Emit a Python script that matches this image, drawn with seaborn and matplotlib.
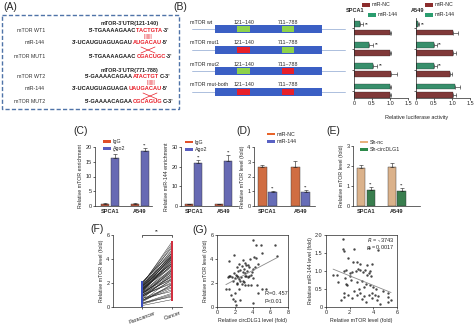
import numpy as np
import pandas as pd
import matplotlib
matplotlib.use("Agg")
import matplotlib.pyplot as plt
import seaborn as sns
from matplotlib.patches import Rectangle, Patch

sns.set_theme(style="ticks")
plt.rcParams['font.family'] = ['Liberation Sans', 'DejaVu Sans']
plt.rcParams['axes.linewidth'] = 0.5
plt.rcParams['xtick.major.width'] = 0.5
plt.rcParams['ytick.major.width'] = 0.5
plt.rcParams['xtick.major.size'] = 1.5
plt.rcParams['ytick.major.size'] = 1.5
plt.rcParams['xtick.major.pad'] = 1
plt.rcParams['ytick.major.pad'] = 1
plt.rcParams['xtick.labelsize'] = 4
plt.rcParams['ytick.labelsize'] = 4
plt.rcParams['axes.labelsize'] = 3.8
plt.rcParams['axes.labelpad'] = 1.5

# ---------------- data ----------------
# Panel A
a_row_labels = ["mTOR WT1", "miR-144", "mTOR MUT1", "mTOR WT2", "miR-144", "mTOR MUT2"]
a_headers = ["mTOR-3'UTR(121-140)", "mTOR-3'UTR(771-788)"]
a_wt1 = [("5'-TGAAAAGAAC", "k"), ("TACTGTA", "r"), ("-3'", "k")]
a_mir1 = [("3'-UCAUGUAGUAGAU", "k"), ("AUGACAU", "r"), ("-5'", "k")]
a_mut1 = [("5'-TGAAAAGAAC", "k"), ("CGACUGC", "r"), ("-3'", "k")]
a_wt2 = [("5'-GAAAACAGAA", "k"), ("ATACTGT", "r"), ("C-3'", "k")]
a_mir2 = [("3'-UCAUGUAGUAGA", "k"), ("UAUGACAU", "r"), ("-5'", "k")]
a_mut2 = [("5'-GAAAACAGAA", "k"), ("CGCAGUG", "r"), ("C-3'", "k")]

# Panel B
constructs = ["mTOR wt", "mTOR mut1", "mTOR mut2", "mTOR mut-both"]
site_labels = ["121~140", "711~788"]
site_status = [["wt", "wt"], ["mut", "wt"], ["wt", "mut"], ["mut", "mut"]]
spca1_mir144 = [0.16, 0.43, 0.53, 0.99]
spca1_mir144_err = [0.08, 0.09, 0.1, 0.05]
spca1_nc = [0.99, 0.99, 1.03, 1.0]
spca1_nc_err = [0.03, 0.03, 0.17, 0.02]
a549_mir144 = [0.06, 0.5, 0.5, 1.08]
a549_mir144_err = [0.03, 0.07, 0.07, 0.15]
a549_nc = [1.04, 1.04, 0.95, 1.04]
a549_nc_err = [0.14, 0.07, 0.05, 0.07]

# Panel C/D/E
cells = ["SPCA1", "A549"]
c_igg_mtor = [0.8, 0.8]
c_igg_mtor_err = [0.2, 0.2]
c_ago2_mtor = [16.4, 18.8]
c_ago2_mtor_err = [1.2, 0.7]
c_igg_mir = [0.8, 0.8]
c_igg_mir_err = [0.3, 0.3]
c_ago2_mir = [22.0, 22.9]
c_ago2_mir_err = [1.4, 3.0]
d_nc = [2.64, 2.64]
d_nc_err = [0.17, 0.4]
d_mir144 = [0.95, 0.95]
d_mir144_err = [0.07, 0.12]
e_shnc = [1.88, 1.95]
e_shnc_err = [0.18, 0.22]
e_shcirc = [0.78, 0.76]
e_shcirc_err = [0.16, 0.13]

# Panel F (paired samples)
f_para = [0.12, 0.31, 0.48, 0.22, 0.65, 0.83, 0.41, 1.05, 0.77, 0.94, 1.18, 0.56, 1.32, 1.27,
          0.88, 1.46, 1.09, 1.51, 0.69, 1.38, 1.62, 1.14, 1.73, 0.99, 1.41, 1.85, 1.22, 1.57,
          1.93, 0.36, 1.67, 1.03, 1.79, 2.04, 1.25, 0.72, 1.48, 1.88, 1.36, 0.58, 1.12, 1.69,
          0.91, 1.54, 1.98, 0.27, 1.31, 1.76, 0.84, 1.44, 2.08, 1.17, 1.6, 0.47, 1.83]
f_cancer = [0.62, 1.15, 2.35, 0.95, 2.8, 3.1, 1.85, 3.55, 2.6, 3.25, 4.05, 1.45, 4.3, 3.85,
            2.2, 4.55, 2.95, 4.2, 1.7, 3.7, 4.8, 2.75, 5.1, 2.4, 3.95, 5.45, 3.05, 4.1,
            5.25, 0.85, 4.4, 1.95, 3.6, 4.65, 2.5, 1.3, 3.35, 4.25, 3.8, 1.6, 2.9, 4.0,
            2.05, 3.45, 4.95, 1.05, 3.15, 4.15, 2.65, 3.5, 4.5, 2.3, 3.65, 1.9, 4.35]
f_groups = ["Paracancer", "Cancer"]

# Panel G
g1_circ = [4.0, 4.4, 5.0, 6.5, 6.8, 5.1, 4.4, 4.2, 3.7, 1.3, 1.9, 2.97, 2.5, 3.2, 3.5, 2.2, 2.8,
           3.0, 3.3, 3.6, 4.0, 2.4, 2.6, 2.9, 3.1, 3.4, 3.8, 4.3, 1.2, 1.5, 1.7, 1.9, 2.0, 2.3,
           2.1, 2.7, 3.2, 3.5, 3.9, 2.5, 1.8, 2.2, 2.6, 3.0, 3.6, 4.1, 1.3, 1.0, 1.6, 1.8, 2.0,
           2.1, 2.0, 2.5, 2.6, 3.5, 3.8, 4.0, 4.5, 5.1, 4.6, 2.8, 3.1, 2.4, 3.3, 4.6, 5.5, 2.3,
           1.4, 2.9]
g1_mtor = [5.6, 5.2, 5.2, 5.2, 4.25, 4.5, 4.1, 4.2, 4.0, 3.85, 4.3, 3.9, 3.6, 3.7, 3.5, 3.3, 3.4,
           3.2, 3.5, 3.3, 3.2, 3.0, 3.1, 2.9, 2.8, 3.0, 2.7, 3.3, 2.5, 2.6, 2.5, 2.8, 2.4, 2.6,
           2.7, 2.5, 2.6, 2.5, 2.9, 2.3, 2.2, 2.0, 2.2, 2.1, 2.6, 2.4, 1.5, 1.5, 1.0, 0.7, 0.5,
           0.2, 1.2, 1.5, 0.6, 1.8, 1.8, 0.3, 1.8, 1.5, 1.2, 1.9, 1.8, 2.5, 2.6, 3.6, 1.5, 1.9,
           2.6, 2.2]
g2_mtor = [1.4, 1.45, 1.5, 2.4, 3.6, 4.4, 1.9, 2.3, 2.6, 2.9, 3.5, 3.9, 0.6, 0.9, 1.0, 1.5,
           1.7, 2.0, 2.2, 2.5, 2.7, 2.9, 3.1, 3.3, 3.5, 3.7, 3.8, 1.6, 2.1, 2.6, 3.0, 3.4, 3.7,
           4.0, 1.8, 2.4, 2.8, 3.2, 3.9, 4.2, 1.5, 1.5, 1.9, 2.6, 2.9, 3.2, 3.6, 3.9, 4.1, 4.3,
           5.2, 5.2, 5.5, 5.2, 4.6, 1.3, 2.2, 3.0, 3.4, 4.4, 4.8, 2.0, 1.7, 3.6]
g2_mir = [1.9, 1.62, 1.55, 1.6, 1.64, 1.57, 1.36, 1.25, 1.25, 1.2, 1.17, 1.2, 0.9, 0.9, 0.7, 1.0,
          1.02, 0.95, 0.98, 1.0, 1.05, 1.03, 0.97, 1.02, 0.9, 1.0, 0.85, 0.8, 0.75, 0.7, 0.72,
          0.65, 0.6, 0.55, 0.6, 0.45, 0.5, 0.55, 0.4, 0.5, 0.28, 0.38, 0.33, 0.33, 0.38, 0.3,
          0.33, 0.25, 0.33, 0.2, 0.38, 0.28, 0.19, 0.14, 0.07, 0.2, 0.25, 0.22, 0.15, 0.3, 0.45,
          0.85, 0.65, 0.95]

# ---------------- figure ----------------
W, H = 474, 325
fig = plt.figure(figsize=(W / 100, H / 100), dpi=100)


def px_axes(x0, y0, x1, y1):
    return fig.add_axes([x0 / W, 1 - y1 / H, (x1 - x0) / W, (y1 - y0) / H])


def ftext(x, y, s, **kw):
    fig.text(x / W, 1 - y / H, s, **kw)


RED = "#e8202a"


def rainbow(ax, x, y, parts, **kw):
    s, c = parts[0]
    t = ax.text(x, y, s, color=("k" if c == "k" else RED), va="center", ha="left", **kw)
    for s, c in parts[1:]:
        t = ax.annotate(s, xycoords=t, xy=(1, 0), va="bottom", ha="left",
                        color=("k" if c == "k" else RED), **kw)
    return t


# ----- Panel A -----
axA = px_axes(0, 0, 182, 112)
axA.set_xlim(0, 182)
axA.set_ylim(112, 0)
axA.axis("off")
axA.add_patch(Rectangle((2, 15), 177, 94, fill=False, ls=(0, (3, 1.6)), lw=1.0,
                        edgecolor="#4f73a8"))
row_y = [30, 43, 57, 77, 89, 102]
for lab, y in zip(a_row_labels, row_y):
    axA.text(45, y, lab, ha="right", va="center", fontsize=3.8, color="#333333")
axA.text(130, 23, a_headers[0], ha="center", va="center", fontsize=4, fontweight="bold")
axA.text(130, 71, a_headers[1], ha="center", va="center", fontsize=4, fontweight="bold")
seqkw = dict(fontsize=4.1, fontweight="bold")
rainbow(axA, 89, 30, a_wt1, **seqkw)
rainbow(axA, 72, 43, a_mir1, **seqkw)
rainbow(axA, 89, 57, a_mut1, **seqkw)
rainbow(axA, 85, 77, a_wt2, **seqkw)
rainbow(axA, 72, 89, a_mir2, **seqkw)
rainbow(axA, 85, 102, a_mut2, **seqkw)
axA.text(148, 36.5, "|||||||", ha="center", va="center", fontsize=3.5, color=RED)
axA.text(151, 83, "|||||||", ha="center", va="center", fontsize=3.5, color=RED)
for cx, cy in [(148, 50), (150, 96)]:
    axA.plot([cx - 7, cx + 7], [cy - 3, cy + 3], color=RED, lw=0.5)
    axA.plot([cx - 7, cx + 7], [cy + 3, cy - 3], color=RED, lw=0.5)

# ----- Panel B diagram -----
axBd = px_axes(180, 15, 352, 100)
axBd.set_xlim(180, 352)
axBd.set_ylim(100, 15)
axBd.axis("off")
BLUE = "#3b5fc4"
GREEN_BOX = "#8ed24a"
site_x = [(237, 250), (282, 294)]
for i, (name, status) in enumerate(zip(constructs, site_status)):
    yc = 29 + 21 * i
    axBd.plot([192, 345], [yc, yc], color="#9fb4d8", lw=0.6, zorder=1)
    axBd.add_patch(Rectangle((215, yc - 4), 107, 8, facecolor=BLUE, edgecolor="none", zorder=2))
    for (x0, x1), st, lab in zip(site_x, status, site_labels):
        axBd.add_patch(Rectangle((x0, yc - 3), x1 - x0, 6,
                                 facecolor=(GREEN_BOX if st == "wt" else RED),
                                 edgecolor="none", zorder=3))
        axBd.text((x0 + x1) / 2, yc - 7, lab, ha="center", va="center", fontsize=3.8)
    axBd.text(190, yc - 7, name, ha="left", va="center", fontsize=3.8)

# ----- Panel B bars -----
NC_RED = "#8c2d2d"
MIR_GREEN = "#2a9d6f"


def hbars(ax, v144, e144, vnc, enc):
    df = pd.DataFrame({"construct": constructs * 2,
                       "group": ["miR-144"] * 4 + ["miR-NC"] * 4,
                       "value": v144 + vnc})
    sns.barplot(data=df, y="construct", x="value", hue="group",
                hue_order=["miR-144", "miR-NC"], palette=[MIR_GREEN, NC_RED],
                orient="h", width=0.8, gap=0.3, errorbar=None, ax=ax, legend=False,
                edgecolor="#222222", linewidth=0.2)
    for cont, errs in zip(ax.containers, [e144, enc]):
        for bar, e in zip(cont, errs):
            ax.errorbar(bar.get_x() + bar.get_width(), bar.get_y() + bar.get_height() / 2,
                        xerr=[[0], [e]], fmt="none", ecolor="k", elinewidth=0.4,
                        capsize=1.2, capthick=0.4)
    ax.set_ylim(3.35, -0.5)
    ax.set_xlim(0, 1.5)
    ax.set_xticks([0, 0.5, 1.0, 1.5])
    ax.set_xticklabels(["0", "0.5", "1.0", "1.5"])
    ax.set_yticks([0, 1, 2, 3])
    ax.set_yticklabels([])
    ax.set_xlabel("")
    ax.set_ylabel("")
    sns.despine(ax=ax)
    return ax


axB1 = hbars(px_axes(354, 18, 408, 98), spca1_mir144, spca1_mir144_err, spca1_nc, spca1_nc_err)
axB2 = hbars(px_axes(416, 18, 470, 98), a549_mir144, a549_mir144_err, a549_nc, a549_nc_err)
for ax, v, e, stars in [(axB1, spca1_mir144, spca1_mir144_err, [0, 1, 2]),
                        (axB2, a549_mir144, a549_mir144_err, [0, 1, 2])]:
    cont = ax.containers[0]
    for i in stars:
        bar = cont[i]
        ax.text(v[i] + e[i] + 0.05, bar.get_y() + bar.get_height() / 2, "**",
                fontsize=3.5, ha="left", va="center")
ftext(417, 117, "Relative luciferase activity", ha="center", va="center", fontsize=4)
ftext(346, 11, "SPCA1", ha="left", va="center", fontsize=4, fontweight="bold")
ftext(411, 11, "A549", ha="left", va="center", fontsize=4, fontweight="bold")
for (px, py, col, lab) in [(362, 5, NC_RED, "miR-NC"), (368, 15, MIR_GREEN, "miR-144"),
                           (425, 5, NC_RED, "miR-NC"), (425, 15, MIR_GREEN, "miR-144")]:
    fig.patches.append(Rectangle((px / W, 1 - (py + 1.7) / H), 8 / W, 3.4 / H,
                                 facecolor=col, edgecolor="none", transform=fig.transFigure))
    ftext(px + 9.5, py, lab, ha="left", va="center", fontsize=3.8)


# ----- vertical grouped bars helper -----
def vbars(ax, names, vals, errs, colors, xlim, ylim, yticks, ylabel, star_second=True):
    df = pd.DataFrame({"cell": cells * 2, "group": [names[0]] * 2 + [names[1]] * 2,
                       "value": vals[0] + vals[1]})
    sns.barplot(data=df, x="cell", y="value", hue="group", hue_order=names, palette=colors,
                width=0.62, gap=0.12, errorbar=None, ax=ax, legend=False,
                edgecolor="#333333", linewidth=0.3)
    for k, (cont, ee) in enumerate(zip(ax.containers, errs)):
        for bar, e in zip(cont, ee):
            xc = bar.get_x() + bar.get_width() / 2
            top = bar.get_height()
            ax.errorbar(xc, top, yerr=[[0], [e]], fmt="none", ecolor="k",
                        elinewidth=0.4, capsize=1.2, capthick=0.4)
            if k == 1 and star_second:
                ax.text(xc, top + e + (ylim[1] - ylim[0]) * 0.005, "**", ha="center",
                        va="bottom", fontsize=3.2)
    ax.set_xlim(*xlim)
    ax.set_ylim(*ylim)
    ax.set_yticks(yticks)
    ax.set_xlabel("")
    ax.set_ylabel(ylabel)
    for lbl in ax.get_xticklabels():
        lbl.set_fontweight("bold")
    ax.tick_params(axis="x", length=0, pad=2)
    sns.despine(ax=ax)


def mini_legend(px, py, names, colors, step=7.5):
    for i, (n, c) in enumerate(zip(names, colors)):
        yy = py + step * i
        fig.patches.append(Rectangle((px / W, 1 - (yy + 1.3) / H), 8 / W, 2.6 / H,
                                     facecolor=c, edgecolor="none", transform=fig.transFigure))
        ftext(px + 9.5, yy, n, ha="left", va="center", fontsize=3.8)


IGG = "#e0502a"
AGO2 = "#5a5fc0"
# C left
axC1 = px_axes(95, 147, 152, 206)
vbars(axC1, ["IgG", "Ago2"], [c_igg_mtor, c_ago2_mtor], [c_igg_mtor_err, c_ago2_mtor_err],
      [IGG, AGO2], (-0.5, 1.4), (0, 20), [0, 5, 10, 15, 20], "Relative mTOR enrichment")
mini_legend(103, 141.5, ["IgG", "Ago2"], [IGG, AGO2], step=7)
# C right
axC2 = px_axes(181, 147, 238, 206)
vbars(axC2, ["IgG", "Ago2"], [c_igg_mir, c_ago2_mir], [c_igg_mir_err, c_ago2_mir_err],
      [IGG, AGO2], (-0.42, 1.48), (0, 30), [0, 10, 20, 30], "Relative miR-144 enrichment")
mini_legend(185, 142, ["IgG", "Ago2"], [IGG, AGO2])
# D
D_OR = "#e8642a"
D_BL = "#5a62c4"
axD = px_axes(254, 147, 315, 206)
vbars(axD, ["miR-NC", "miR-144"], [d_nc, d_mir144], [d_nc_err, d_mir144_err],
      [D_OR, D_BL], (-0.41, 1.44), (0, 4), [0, 1, 2, 3, 4], "Relative mTOR level (fold)")
mini_legend(267, 134, ["miR-NC", "miR-144"], [D_OR, D_BL])
# E
E_TAN = "#e8b27e"
E_GR = "#2d8a4a"
axE = px_axes(353, 146, 420, 206)
vbars(axE, ["Sh-nc", "Sh-circDLG1"], [e_shnc, e_shcirc], [e_shnc_err, e_shcirc_err],
      [E_TAN, E_GR], (-0.42, 1.75), (0, 3), [0, 1, 2, 3], "Relative mTOR level (fold)")
mini_legend(360, 142, ["Sh-nc", "Sh-circDLG1"], [E_TAN, E_GR])

# ----- Panel F -----
axF = px_axes(113, 235, 182, 307)
n = len(f_para)
dfF = pd.DataFrame({"pair": list(range(n)) * 2,
                    "pos": [0] * n + [1] * n,
                    "group": [f_groups[0]] * n + [f_groups[1]] * n,
                    "value": f_para + f_cancer})
sns.lineplot(data=dfF, x="pos", y="value", units="pair", estimator=None, color="k",
             lw=0.3, ax=axF, legend=False)
sns.scatterplot(data=dfF, x="pos", y="value", hue="group", palette=["#3a4fbf", "#d03040"],
                marker="s", s=2.5, linewidth=0, ax=axF, legend=False, zorder=3)
axF.set_xlim(-0.97, 1.33)
axF.set_ylim(0, 6)
axF.set_yticks([0, 2, 4, 6])
axF.set_xticks([0, 1])
axF.set_xticklabels(f_groups, rotation=20, ha="center")
axF.set_xlabel("")
axF.set_ylabel("Relative mTOR level (fold)")
sns.despine(ax=axF)
axF.plot([0, 0, 1, 1], [5.8, 6.0, 6.0, 5.8], color="k", lw=0.5, clip_on=False)
axF.text(0.5, 6.05, "**", ha="center", va="bottom", fontsize=3.5)

# ----- Panel G -----
axG1 = px_axes(217, 235, 288, 307)
sns.regplot(x=g1_circ, y=g1_mtor, ci=None, ax=axG1,
            scatter_kws=dict(s=3, color="k", linewidths=0),
            line_kws=dict(color="#8a8a8a", lw=0.6))
axG1.set_xlim(0, 8)
axG1.set_ylim(0, 6)
axG1.set_xticks([0, 2, 4, 6, 8])
axG1.set_yticks([0, 2, 4, 6])
axG1.set_xlabel("Relative circDLG1 level (fold)")
axG1.set_ylabel("Relative mTOR level (fold)")
axG1.text(0.67, 0.17, "R=0. 457", transform=axG1.transAxes, fontsize=4, ha="left")
axG1.text(0.67, 0.05, "P<0.01", transform=axG1.transAxes, fontsize=4, ha="left")

axG2 = px_axes(326, 235, 397, 307)
sns.regplot(x=g2_mtor, y=g2_mir, ci=None, ax=axG2,
            scatter_kws=dict(s=3, color="k", linewidths=0),
            line_kws=dict(color="#8a8a8a", lw=0.6))
axG2.set_xlim(0, 6)
axG2.set_ylim(0, 2.0)
axG2.set_xticks([0, 2, 4, 6])
axG2.set_yticks([0, 0.5, 1.0, 1.5, 2.0])
axG2.set_yticklabels(["0", "0.5", "1.0", "1.5", "2.0"])
axG2.set_xlabel("Relative mTOR level (fold)")
axG2.set_ylabel("Relative miR-144 level (fold)")
axG2.text(0.96, 0.93, "$R$ = -.3743", transform=axG2.transAxes, fontsize=4, ha="right", va="center")
axG2.text(0.96, 0.83, "$p$ = 0.0017", transform=axG2.transAxes, fontsize=4, ha="right", va="center")

# ----- panel letters -----
for lab, x, y in [("(A)", 3, 7), ("(B)", 173, 7), ("(C)", 73, 131), ("(D)", 236, 131),
                  ("(E)", 326, 131), ("(F)", 90, 229), ("(G)", 192, 230)]:
    ftext(x, y, lab, ha="left", va="center", fontsize=7.5)

fig.savefig("out.png", dpi=100)
